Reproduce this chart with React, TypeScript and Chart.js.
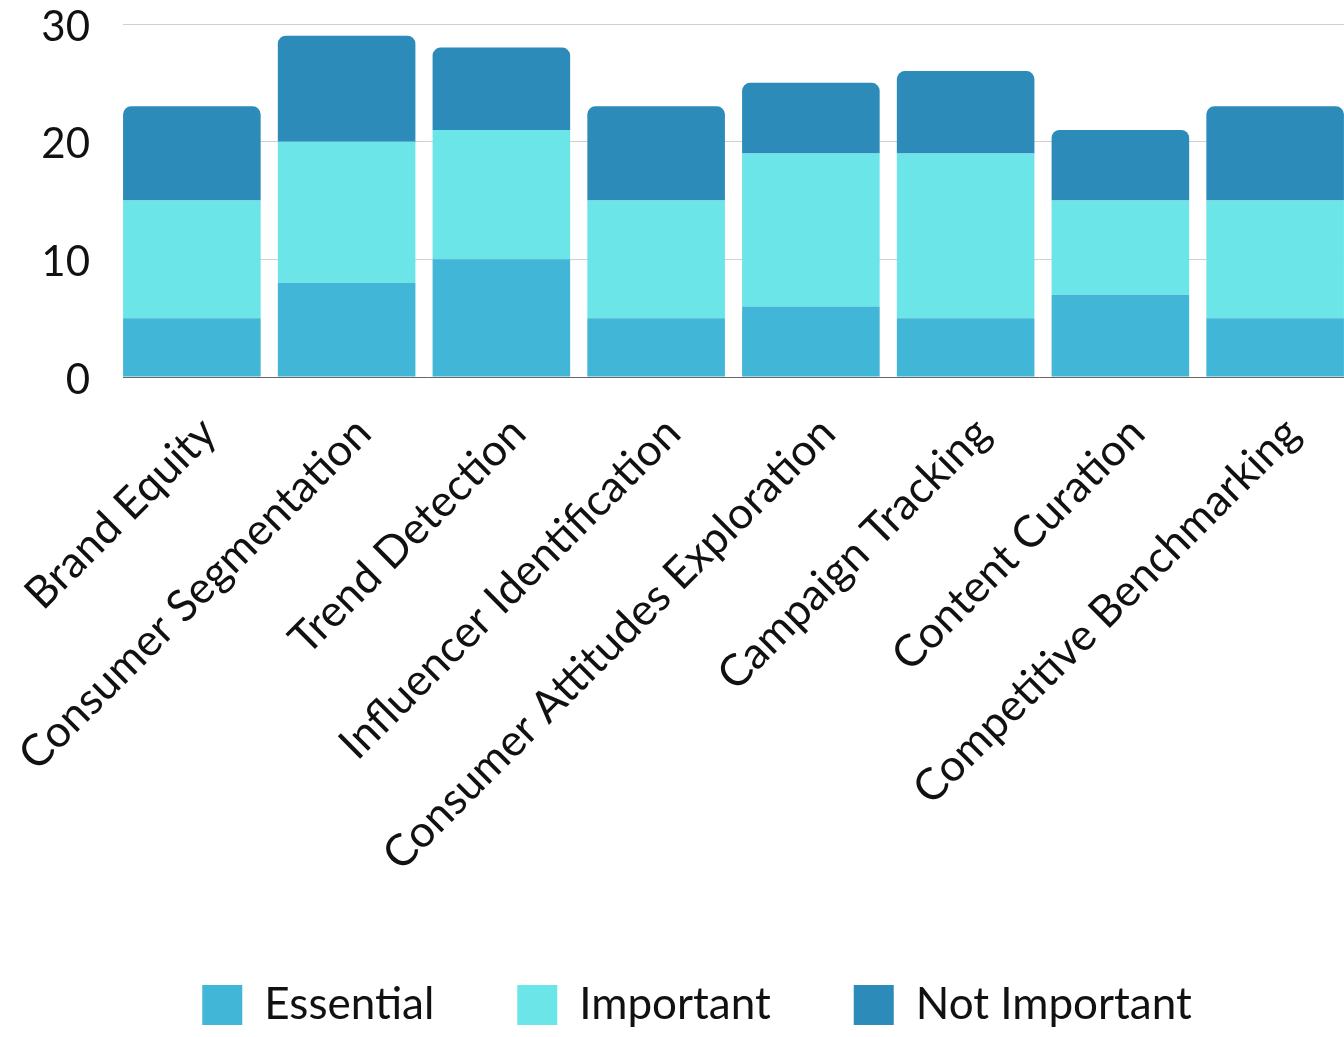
import React, { useEffect, useRef } from "react";
import { Chart, registerables } from "chart.js";

Chart.register(...registerables);

const categories = [
  "Brand Equity",
  "Consumer Segmentation",
  "Trend Detection",
  "Influencer Identification",
  "Consumer Attitudes Exploration",
  "Campaign Tracking",
  "Content Curation",
  "Competitive Benchmarking",
];
const essential = [5, 8, 10, 5, 6, 5, 7, 5];
const important = [10, 12, 11, 10, 13, 14, 8, 10];
const notImportant = [8, 9, 7, 8, 6, 7, 6, 8];
const seriesNames = ["Essential", "Important", "Not Important"];
const seriesColors = ["#42b6d6", "#6be5e8", "#2d8bba"];
const yMin = 0;
const yMax = 30;
const yStep = 10;

const W = 1344;
const H = 1037;
const AREA_LEFT = 123;
const AREA_TOP = 24;
const LEGEND_SHIFT = 50;
const X_AXIS_HEIGHT = 523;
const FONT = "Lato, 'Open Sans', sans-serif";

const shiftLegend = {
  id: "shiftLegend",
  afterLayout(chart: any) {
    if (chart.legend) chart.legend.left += LEGEND_SHIFT;
  },
};

export default function App() {
  const ref = useRef<HTMLCanvasElement | null>(null);

  useEffect(() => {
    if (!ref.current) return;
    const toPoints = (arr: number[]) => arr.map((v, i) => ({ x: i, y: v }));
    const series = [essential, important, notImportant];
    const chart = new Chart(ref.current, {
      type: "bar",
      plugins: [shiftLegend],
      data: {
        datasets: series.map((s, k) => ({
          label: seriesNames[k],
          data: toPoints(s),
          backgroundColor: seriesColors[k],
          borderColor: seriesColors[k],
          borderWidth: 0,
          stack: "s",
          categoryPercentage: 1,
          barPercentage: 0.889,
          borderRadius: k === 2 ? { topLeft: 8, topRight: 8, bottomLeft: 0, bottomRight: 0 } : 0,
          borderSkipped: k === 2 ? "start" : false,
        })),
      },
      options: {
        responsive: false,
        animation: false,
        devicePixelRatio: 1,
        layout: { padding: 0 },
        plugins: {
          tooltip: { enabled: false },
          legend: {
            position: "bottom",
            labels: {
              boxWidth: 40,
              boxHeight: 40,
              padding: 83,
              color: "#111",
              font: { family: FONT, size: 44 },
            },
          },
        },
        scales: {
          x: {
            type: "linear",
            min: -0.445,
            max: 7.445,
            stacked: true,
            offset: false,
            grid: { display: false, drawTicks: false },
            border: { display: true, color: "#666", width: 1 },
            afterFit: (scale: any) => {
              scale.height = X_AXIS_HEIGHT;
              scale.paddingLeft = 0;
              scale.paddingRight = 0;
            },
            ticks: {
              stepSize: 1,
              includeBounds: false,
              autoSkip: false,
              minRotation: 45,
              maxRotation: 45,
              padding: 30,
              labelOffset: 17,
              color: "#111",
              font: { family: FONT, size: 44 },
              callback: (v: any) => {
                const n = Number(v);
                return Number.isInteger(n) && n >= 0 && n < categories.length ? categories[n] : "";
              },
            },
          },
          y: {
            stacked: true,
            min: yMin,
            max: yMax,
            grid: { color: "#d0d0d0", lineWidth: 1, drawTicks: false },
            border: { display: false },
            afterFit: (scale: any) => {
              scale.width = AREA_LEFT;
              scale.paddingTop = AREA_TOP;
              scale.paddingBottom = 0;
            },
            ticks: {
              stepSize: yStep,
              padding: 33,
              labelOffset: 3,
              color: "#111",
              font: { family: FONT, size: 42 },
            },
          },
        },
      },
    });
    return () => chart.destroy();
  }, []);

  return (
    <div style={{ position: "fixed", left: 0, top: 0, width: W, height: H, background: "#fff" }}>
      <canvas ref={ref} width={W} height={H} style={{ display: "block", width: W, height: H }} />
    </div>
  );
}
